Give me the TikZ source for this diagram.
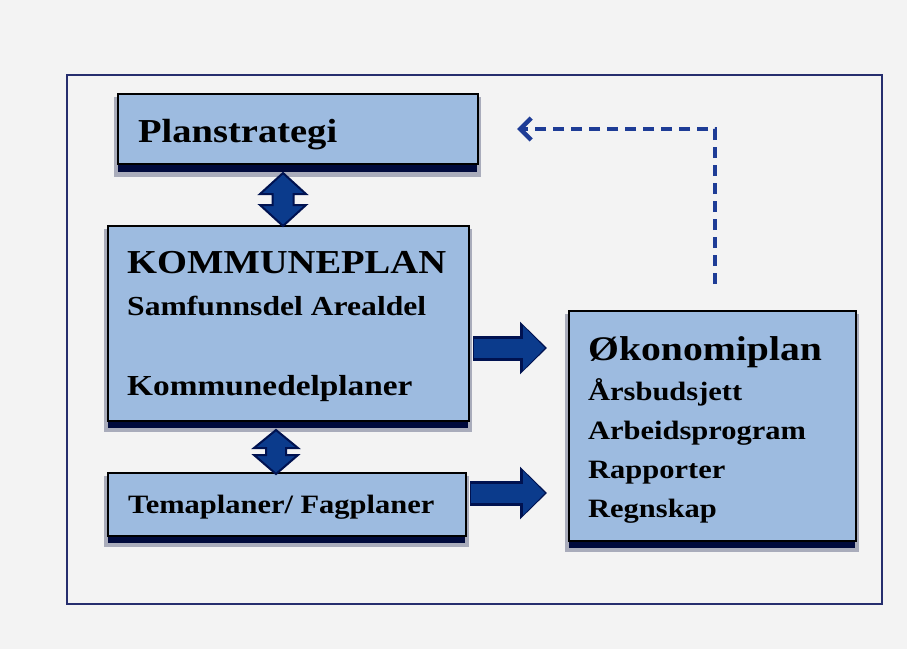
\documentclass[tikz,border=0pt]{standalone}
\usepackage{fontspec}
\setmainfont{Liberation Serif}[FakeStretch=1.15]
\usetikzlibrary{arrows.meta,calc}
\definecolor{bgc}{HTML}{F3F3F3}
\definecolor{framec}{HTML}{262E6E}
\definecolor{boxfill}{HTML}{9DBBE0}
\definecolor{shadowc}{HTML}{000A3C}
\definecolor{arrfill}{HTML}{0B3B8C}
\definecolor{arredge}{HTML}{001250}
\definecolor{dashc}{HTML}{1E3C96}
\tikzset{
  box/.style={draw=black, line width=2pt, fill=boxfill, rectangle, inner sep=0pt, anchor=north west},
  txt/.style={anchor=base west, inner sep=0pt, font=\bfseries},
  bigt/.style={txt, font=\bfseries\fontsize{33.5}{36}\selectfont},
  okot/.style={txt, font=\bfseries\fontsize{34.5}{36}\selectfont},
  smallt/.style={txt, font=\bfseries\fontsize{26.5}{30}\selectfont},
  midt/.style={txt, font=\bfseries\fontsize{27.5}{30}\selectfont},
  midtb/.style={txt, font=\bfseries\fontsize{29}{30}\selectfont},
  blockout/.style={draw=arredge, line width=25pt, -{Triangle[width=51pt,length=27pt]}},
  blockin/.style={draw=arrfill, line width=19pt, -{Triangle[width=43pt,length=22pt]}},
  dblarrow/.style={fill=arrfill, draw=arredge, line width=2pt, line join=miter},
  dasharrow/.style={draw=dashc, line width=4pt, dash pattern=on 11pt off 7pt, -{Straight Barb[length=11pt,width=22pt,line width=4.5pt]}}
}
\begin{document}
\begin{tikzpicture}[x=1pt,y=-1pt]
\useasboundingbox (0,0) rectangle (907,649);
\fill[bgc] (0,0) rectangle (907,649);
\draw[framec, line width=2.8pt, fill=bgc] (67,75) rectangle (882,604);

% shadows
\fill[shadowc, opacity=0.3] (114,97) rectangle (481,177);
\fill[shadowc] (118,98) rectangle (477,172);
\fill[shadowc, opacity=0.3] (104,229) rectangle (472,432);
\fill[shadowc] (108,230) rectangle (468,428);
\fill[shadowc, opacity=0.3] (104,476) rectangle (469,547);
\fill[shadowc] (108,477) rectangle (465,543);
\fill[shadowc, opacity=0.3] (565,314) rectangle (859,552);
\fill[shadowc] (569,315) rectangle (855,548);

% boxes
\node[box, minimum width=360pt, minimum height=70pt] (plan) at (117,93) {};
\node[box, minimum width=361pt, minimum height=195pt] (komm) at (107,225) {};
\node[box, minimum width=358pt, minimum height=63pt] (tema) at (107,472) {};
\node[box, minimum width=287pt, minimum height=230pt] (oko) at (568,310) {};

% texts
\node[bigt] (t1) at (138,142) {Planstrategi};
\node[bigt] (t2) at (127,273) {KOMMUNEPLAN};
\node[midt] (t3) at (127,315) {Samfunnsdel Arealdel};
\node[midtb] (t4) at (127,395) {Kommunedelplaner};
\node[smallt] (t5) at (128,513) {Temaplaner/ Fagplaner};
\node[okot] (t6) at (588,360) {Økonomiplan};
\node[smallt] (t7) at (588,400) {Årsbudsjett};
\node[smallt] (t8) at (588,439) {Arbeidsprogram};
\node[smallt] (t9) at (588,478) {Rapporter};
\node[smallt] (t10) at (588,517) {Regnskap};

% double arrows
\coordinate (a1) at ($(283,0 |- plan.south)+(0,8)$);
\coordinate (a2) at ($(283,0 |- komm.north)+(0,1)$);
\draw[dblarrow] (a1) -- ++(23,21) -- ++(-12.5,0) -- ($(a2)+(10.5,-21)$) -- ++(12.5,0)
  -- (a2) -- ++(-23,-21) -- ++(12.5,0) -- ($(a1)+(-10.5,21)$) -- ++(-12.5,0) -- cycle;
\coordinate (b1) at ($(276,0 |- komm.south)+(0,8)$);
\coordinate (b2) at ($(276,0 |- tema.north)+(0,2)$);
\draw[dblarrow] (b1) -- ++(22,18) -- ++(-12,0) -- ($(b2)+(10,-19)$) -- ++(12,0)
  -- (b2) -- ++(-22,-19) -- ++(12,0) -- ($(b1)+(-10,18)$) -- ++(-12,0) -- cycle;

% block arrows
\draw[blockout] ($(komm.east |- 0,348)+(3,0)$) -- ($(oko.west |- 0,348)+(-21,0)$);
\draw[blockin] ($(komm.east |- 0,348)+(4,0)$) -- ($(oko.west |- 0,348)+(-23,0)$);
\draw[blockout] ($(tema.east |- 0,493)+(3,0)$) -- ($(oko.west |- 0,493)+(-21,0)$);
\draw[blockin] ($(tema.east |- 0,493)+(4,0)$) -- ($(oko.west |- 0,493)+(-23,0)$);

% dashed feedback arrow
\coordinate (dstart) at (715,284);
\draw[dasharrow] (dstart) |- ($(plan.east)+(38,0)$);
\end{tikzpicture}
\end{document}
